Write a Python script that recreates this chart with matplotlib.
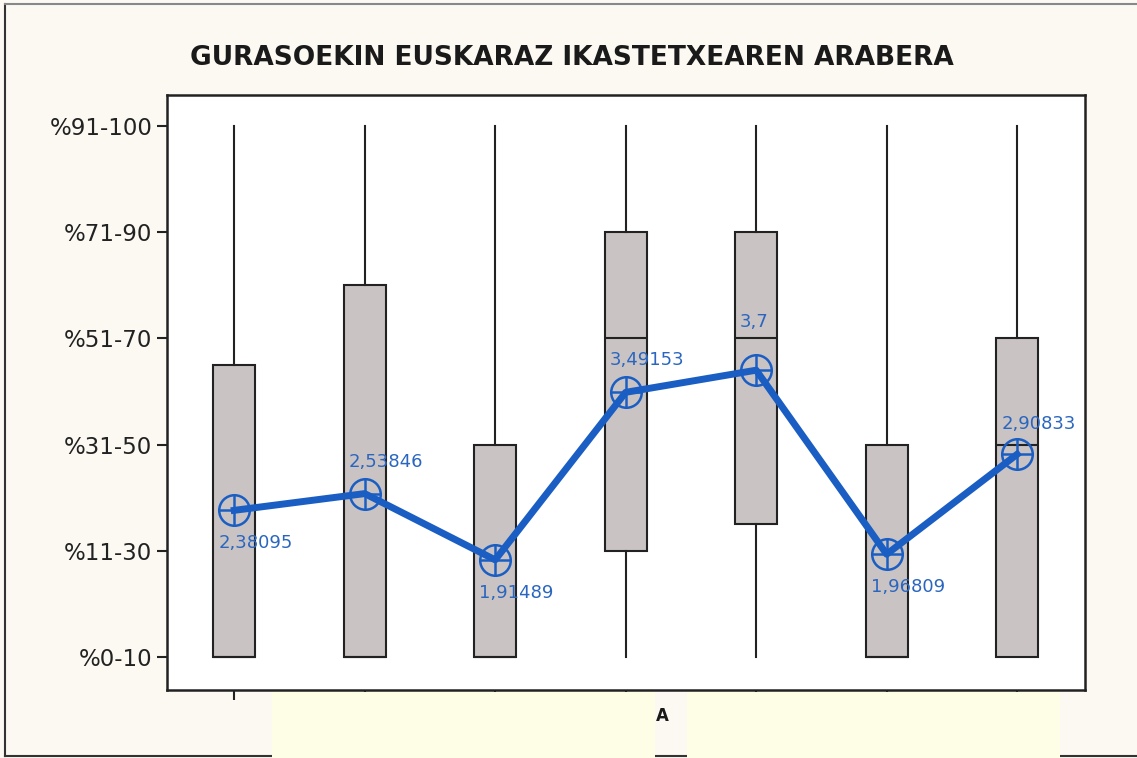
import matplotlib.pyplot as plt
from matplotlib.patches import Rectangle
from matplotlib.lines import Line2D

# datuak: 1..6 = %0-10 ... %91-100
posizioak = [1, 2, 3, 4, 5, 6, 7]
minimoak = [1, 1, 1, 1, 1, 1, 1]
q1 = [1, 1, 1, 2, 2.25, 1, 1]
medianak = [1, 1, 1, 4, 4, 1, 3]
q3 = [3.75, 4.5, 3, 5, 5, 3, 4]
maximoak = [6, 6, 6, 6, 6, 6, 6]
batezbestekoak = [2.38095, 2.53846, 1.91489, 3.49153, 3.7, 1.96809, 2.90833]
etiketak = ['2,38095', '2,53846', '1,91489', '3,49153', '3,7', '1,96809', '2,90833']
etiketa_dy = [-33, 32, -33, 32, 48, -33, 30]
y_etiketak = ['%0-10', '%11-30', '%31-50', '%51-70', '%71-90', '%91-100']

urdina = '#1a5ec4'
fig = plt.figure(figsize=(11.37, 7.58), dpi=100, facecolor='#fcf9f3')
ax = fig.add_axes([167/1137, 68/758, 918/1137, 595/758])
ax.set_facecolor('white')

stats = []
for i in range(len(posizioak)):
    stats.append(dict(whislo=minimoak[i], q1=q1[i], med=medianak[i],
                      q3=q3[i], whishi=maximoak[i], mean=batezbestekoak[i]))
ax.bxp(stats, positions=posizioak, widths=0.32, patch_artist=True,
       showcaps=False, showfliers=False, showmeans=False,
       boxprops=dict(facecolor='#c9c3c3', edgecolor='#222222', linewidth=1.5),
       whiskerprops=dict(color='#222222', linewidth=1.5),
       medianprops=dict(color='#222222', linewidth=1.5))

ax.plot(posizioak, batezbestekoak, color=urdina, linewidth=5, zorder=4)
ax.plot(posizioak, batezbestekoak, linestyle='none', marker='o', markersize=22,
        markerfacecolor='none', markeredgecolor=urdina, markeredgewidth=1.8, zorder=5)
ax.plot(posizioak, batezbestekoak, linestyle='none', marker='+', markersize=22,
        markeredgecolor=urdina, markeredgewidth=1.8, zorder=5)
for x, y, t, dy in zip(posizioak, batezbestekoak, etiketak, etiketa_dy):
    ax.annotate(t, (x, y), xytext=(-16, dy), textcoords='offset pixels',
                ha='left', va='center', color='#2a66c0', fontsize=13, zorder=6)

ax.set_xlim(0.485, 7.52)
ax.set_ylim(0.69, 6.29)
ax.set_yticks(range(1, 7))
ax.set_yticklabels(y_etiketak, fontsize=16.5, color='#222222')
ax.set_xticks(posizioak)
ax.set_xticklabels([''] * 7)
ax.tick_params(length=7, width=1.5, color='#222222', direction='out')
for s in ax.spines.values():
    s.set_linewidth(1.8)
    s.set_color('#222222')

fig.text(0.503, 0.923, 'GURASOEKIN EUSKARAZ IKASTETXEAREN ARABERA', ha='center',
         va='center', fontsize=19, fontweight='heavy', color='#1a1a1a')

# estalitako x etiketak
fig.add_artist(Rectangle((272/1137, 0), 383/1137, 66/758, transform=fig.transFigure,
                         facecolor='#fefee6', edgecolor='none', zorder=10))
fig.add_artist(Rectangle((687/1137, 0), 373/1137, 66/758, transform=fig.transFigure,
                         facecolor='#fefee6', edgecolor='none', zorder=10))
fig.text(662/1137, 1 - 716/758, 'A', ha='center', va='center', fontsize=12,
         fontweight='bold', color='#1a1a1a', zorder=11)

# kanpoko markoa
fig.add_artist(Line2D([5/1137, 5/1137], [2/758, 1 - 4/758], transform=fig.transFigure,
                      color='#333333', linewidth=1.5))
fig.add_artist(Line2D([5/1137, 1], [1 - 4/758, 1 - 4/758], transform=fig.transFigure,
                      color='#888888', linewidth=1.5))
fig.add_artist(Line2D([5/1137, 1], [2/758, 2/758], transform=fig.transFigure,
                      color='#333333', linewidth=1.5, zorder=1))

fig.savefig('out.png', dpi=100, facecolor=fig.get_facecolor())
